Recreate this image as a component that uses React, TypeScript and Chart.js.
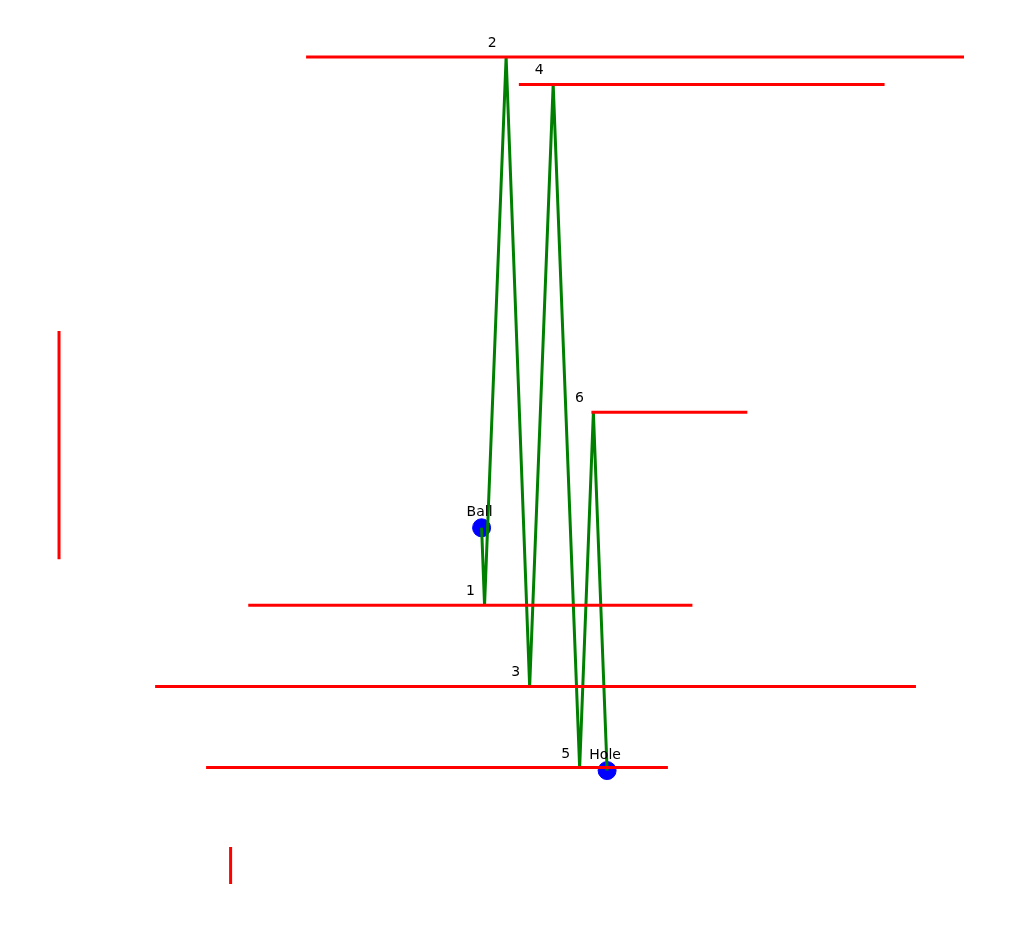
import React, { useEffect, useRef } from "react";
import { Chart, registerables } from "chart.js";

Chart.register(...registerables);

// walls: [x1, y1, x2, y2]
const walls: number[][] = [
  [30.2, 89.7, 97.3, 89.7],
  [51.9, 86.9, 89.2, 86.9],
  [59.3, 53.4, 75.2, 53.4],
  [24.3, 33.7, 69.6, 33.7],
  [14.8, 25.4, 92.4, 25.4],
  [20.0, 17.1, 67.1, 17.1],
  [5.0, 61.7, 5.0, 38.4],
  [22.5, 9.0, 22.5, 5.2],
];

const pathX = [48.1, 48.4, 50.6, 53.0, 55.4, 58.1, 59.5, 60.9];
const pathY = [41.6, 33.7, 89.7, 25.4, 86.9, 17.1, 53.4, 16.8];
const bounceLabels = ["", "1", "2", "3", "4", "5", "6", ""];

const ball = { x: 48.1, y: 41.6, label: "Ball" };
const hole = { x: 60.9, y: 16.8, label: "Hole" };

const labelPlugin = {
  id: "labels",
  afterDatasetsDraw(chart: any) {
    const { ctx, scales } = chart;
    ctx.save();
    ctx.fillStyle = "#000";
    ctx.font = "14px 'DejaVu Sans'";
    ctx.textBaseline = "alphabetic";
    ctx.textAlign = "center";
    pathX.forEach((x, i) => {
      if (!bounceLabels[i]) return;
      ctx.fillText(bounceLabels[i], scales.x.getPixelForValue(x) - 14, scales.y.getPixelForValue(pathY[i]) - 10);
    });
    [ball, hole].forEach((p) => {
      ctx.fillText(p.label, scales.x.getPixelForValue(p.x) - 2, scales.y.getPixelForValue(p.y) - 12);
    });
    ctx.restore();
  },
};

export default function App() {
  const ref = useRef<HTMLCanvasElement | null>(null);

  useEffect(() => {
    document.body.style.margin = "0";
    if (!ref.current) return;
    const datasets: any[] = walls.map((w) => ({
      data: [
        { x: w[0], y: w[1] },
        { x: w[2], y: w[3] },
      ],
      showLine: true,
      borderColor: "#ff0000",
      borderWidth: 3,
      pointRadius: 0,
    }));
    datasets.push({
      data: pathX.map((x, i) => ({ x, y: pathY[i] })),
      showLine: true,
      borderColor: "#008000",
      borderWidth: 3,
      pointRadius: 0,
    });
    datasets.push({
      data: [ball, hole].map((p) => ({ x: p.x, y: p.y })),
      showLine: false,
      backgroundColor: "#0000ff",
      borderColor: "#0000ff",
      pointRadius: 9,
    });
    const chart = new Chart(ref.current, {
      type: "scatter",
      data: { datasets },
      options: {
        animation: false,
        responsive: false,
        layout: { padding: 0 },
        plugins: { legend: { display: false }, tooltip: { enabled: false } },
        scales: {
          x: { type: "linear", min: 0, max: 102.4, display: false },
          y: { type: "linear", min: 0, max: 94.5, display: false },
        },
      },
      plugins: [labelPlugin],
    });
    return () => chart.destroy();
  }, []);

  return <canvas ref={ref} width={1024} height={945} style={{ display: "block" }} />;
}
